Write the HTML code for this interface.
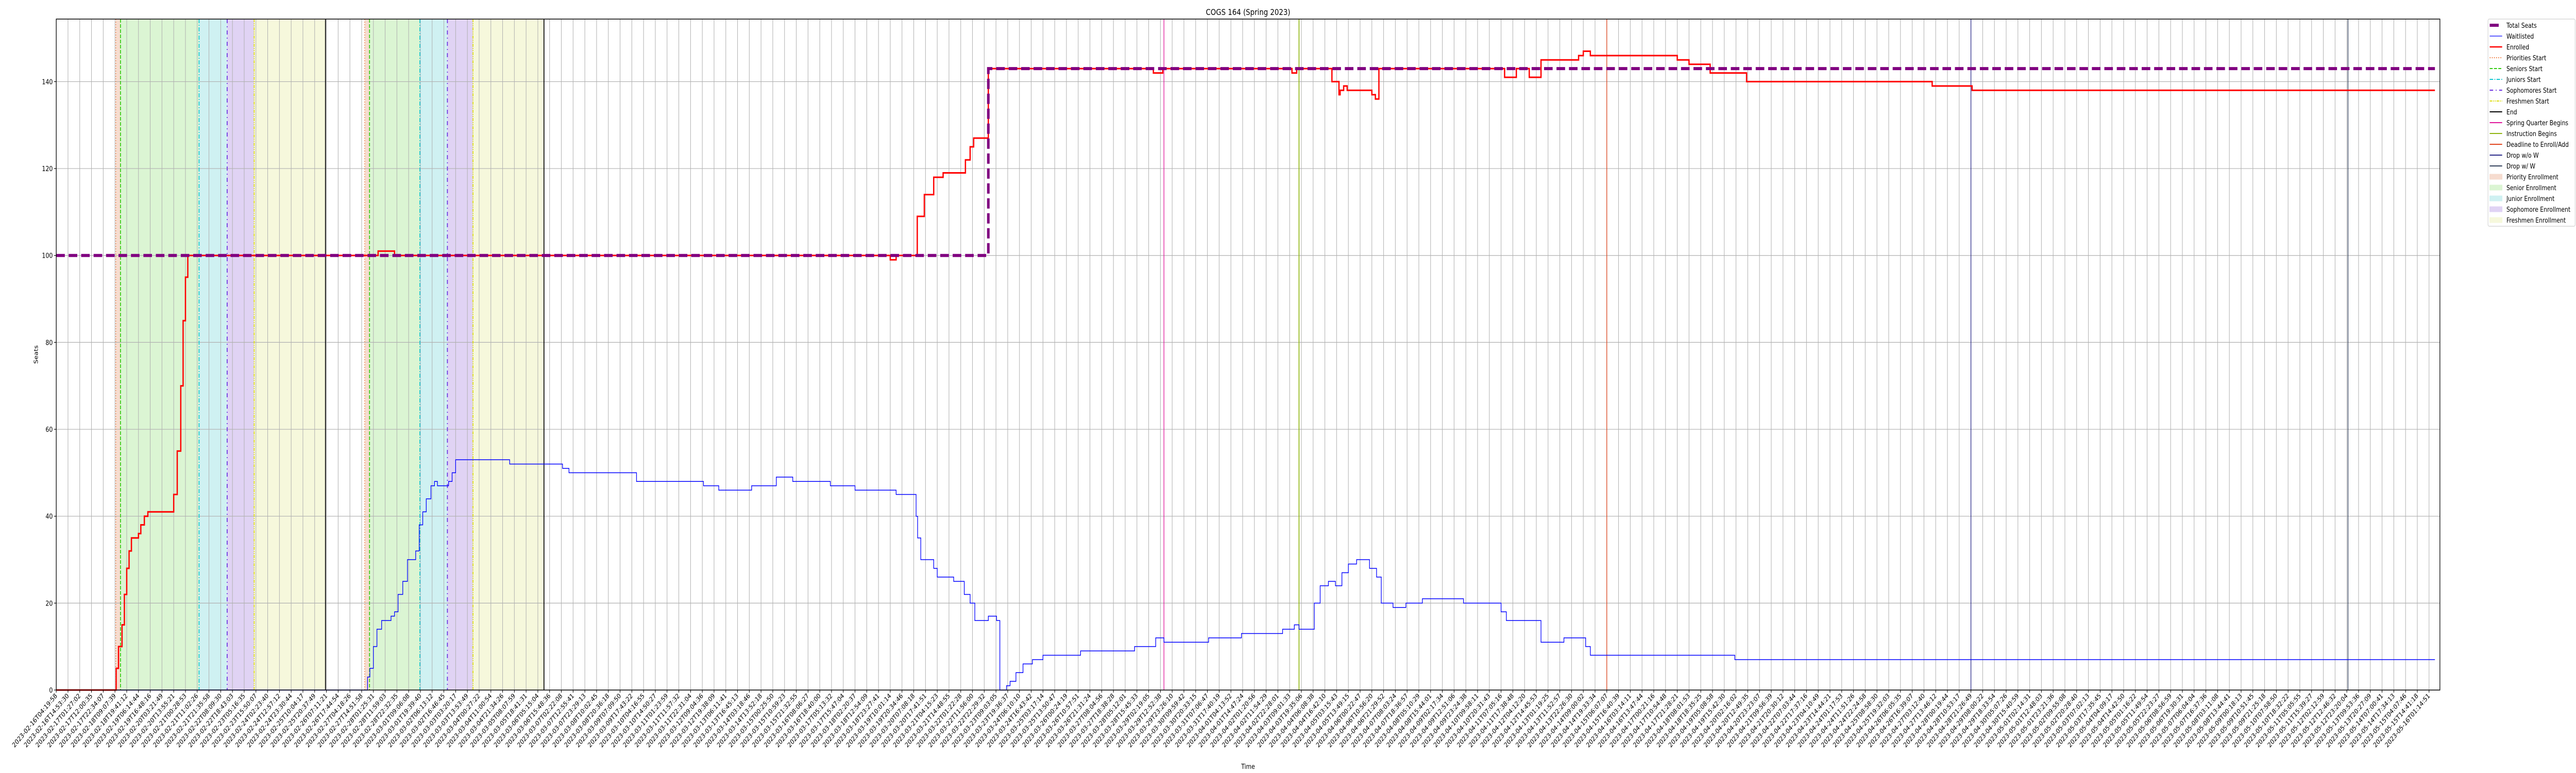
<!DOCTYPE html>
<html><head><meta charset="utf-8">
<style>
html,body{margin:0;padding:0;background:#fff;overflow:hidden;width:100%;height:100%;}
svg{display:block;width:100vw;height:100vh;font-family:"DejaVu Sans","Liberation Sans",sans-serif;}
</style></head>
<body>
<svg id="chart" viewBox="0 0 6000 1500" preserveAspectRatio="none" xmlns="http://www.w3.org/2000/svg">
<rect x="0" y="0" width="6000" height="1500" fill="#fff"/>
<text x="2907" y="29" font-size="16" text-anchor="middle">COGS 164 (Spring 2023)</text>
<g id="bands"></g>
<g id="grid"></g>
<g id="events"></g>
<g id="series"></g>
<g id="axes"></g>
<g id="legend"></g>
<text transform="translate(88,688) rotate(-90)" font-size="13" text-anchor="middle">Seats</text>
<text x="2907" y="1492" font-size="13" text-anchor="middle">Time</text>
</svg>
<script>
// ---- data (x in tick-index units, y in seats) ----
const yTicks = [0, 20, 40, 60, 80, 100, 120, 140];
const tickStart = "2023-02-16T04:19:58";
const tickEnd = "2023-05-16T01:14:51";
const tickCount = 203;
const totalX = [0, 79.35, 202.5];
const totalV = [100, 143, 143];
const enrollX = [0,5.0,5.1,5.3,5.6,5.8,6.0,6.2,6.4,7.0,7.2,7.5,7.8,9.8,10.0,10.3,10.6,10.8,11.0,11.2,27.4,28.8,71.0,71.5,73.3,73.9,74.7,75.5,77.4,77.8,78.1,79.35,93.4,94.2,105.2,105.6,108.6,109.2,109.3,109.6,109.9,112.0,112.3,112.6,123.0,123.3,124.0,124.3,125.4,126.4,129.6,130.0,130.6,138.0,139.0,140.8,143.9,159.7,163.1,202.5];
const enrollV = [0,0,5,10,15,22,28,32,35,36,38,40,41,41,45,55,70,85,95,100,101,100,99,100,109,114,118,119,122,125,127,143,142,143,142,143,140,137,138,139,138,137,136,143,143,141,141,143,141,145,146,147,146,145,144,142,140,139,138,138];
const waitX = [0,26.3,26.5,26.7,27.0,27.3,27.7,28.5,28.8,29.1,29.5,29.9,30.6,30.9,31.2,31.5,31.9,32.2,32.45,33.4,33.7,34.0,38.6,43.1,43.65,49.4,55.1,56.4,59.2,61.3,62.7,65.9,68.0,71.5,73.2,73.33,73.6,74.7,75.0,76.4,77.3,77.8,78.2,79.35,80.05,80.33,80.9,81.2,81.7,82.3,83.1,84.0,87.2,91.8,93.6,94.3,98.1,100.9,104.4,105.4,105.8,107.1,107.6,108.3,108.9,109.45,110.0,110.7,111.8,112.4,112.8,113.8,114.9,116.3,119.8,123.0,123.45,126.4,128.35,130.2,130.6,142.9,202.5];
const waitV = [0,0,3,5,10,14,16,17,18,22,25,30,32,38,41,44,47,48,47,48,50,53,52,51,50,48,47,46,47,49,48,47,46,45,40,35,30,28,26,25,22,20,16,17,16,0,1,2,4,6,7,8,9,10,12,11,12,13,14,15,14,20,24,25,24,27,29,30,28,26,20,19,20,21,20,18,16,11,12,10,8,7,7];
const bandNames = ["priority","senior","junior","sophomore","freshmen","priority","senior","junior","sophomore","freshmen"];
const bandStart = [5.07,5.47,12.16,14.55,16.85,26.26,26.67,30.96,33.3,35.48];
const bandEnd = [5.47,12.16,14.55,16.85,22.92,26.67,30.96,33.3,35.48,41.52];
const eventNames = ["priorities-start","seniors-start","juniors-start","sophomores-start","freshmen-start","end","priorities-start","seniors-start","juniors-start","sophomores-start","freshmen-start","end","spring-quarter-begins","instruction-begins","deadline-enroll-add","drop-without-w","drop-with-w"];
const eventX = [5.07,5.47,12.16,14.55,16.85,22.92,26.26,26.67,30.96,33.3,35.48,41.52,94.3,105.8,132.0,163.0,195.1];

// ---- styles ----
const L=131,R=5683,T=37,B=1339,YMAX=154.4,DX=27.36;
const xs=u=>L+u*DX;
const ys=v=>B-v*(B-T)/YMAX;
const NS="http://www.w3.org/2000/svg";
const bandFill={priority:"#f6dccf",senior:"#dbf5d3",junior:"#cff1f2",sophomore:"#e0d3f4",freshmen:"#f6f8dc"};
const evStyle={
 "priorities-start":["#f07a3c","2,3",1.5],"seniors-start":["#33cc11","7,3",2],"juniors-start":["#11c6d0","8,3,2,3",2],
 "sophomores-start":["#6a2ee0","8,6,2,6",2],"freshmen-start":["#dede10","6,2,2,2,2,2",2],"end":["#000","",2],
 "spring-quarter-begins":["#e0149a","",1.5],"instruction-begins":["#8fb510","",2],"deadline-enroll-add":["#e0441c","",1.5],
 "drop-without-w":["#2a2a8a","",1.5],"drop-with-w":["#33415c","",1.5]};
function mk(tag,attrs,parent){const e=document.createElementNS(NS,tag);for(const k in attrs)e.setAttribute(k,attrs[k]);parent.appendChild(e);return e;}

const gB=document.getElementById('bands');
bandStart.forEach((s,i)=>{
 const r=mk('rect',{x:xs(s),y:T,width:xs(bandEnd[i])-xs(s),height:B-T,fill:bandFill[bandNames[i]]},gB);
 
 
});

// grid + ticks
const gG=document.getElementById('grid'),gA=document.getElementById('axes');
function fmt(d){const p=n=>String(n).padStart(2,'0');return d.getUTCFullYear()+"-"+p(d.getUTCMonth()+1)+"-"+p(d.getUTCDate())+"T"+p(d.getUTCHours())+":"+p(d.getUTCMinutes())+":"+p(d.getUTCSeconds());}
const t0=Date.parse(tickStart+"Z"),t1=Date.parse(tickEnd+"Z");
for(let k=0;k<tickCount;k++){
 const x=xs(k);
 mk('line',{x1:x,x2:x,y1:T,y2:B,stroke:"#b0b0b0","stroke-width":1.2},gG);
 mk('line',{x1:x,x2:x,y1:B,y2:B+5,stroke:"#000","stroke-width":1.2},gA);
 const lab=fmt(new Date(t0+(t1-t0)*k/(tickCount-1)));
 const t=mk('text',{transform:`translate(${x+3},${B+12}) rotate(-45)`,"font-size":13,"text-anchor":"end"},gA);
 t.textContent=lab;
 
 
}
yTicks.forEach(v=>{
 const y=ys(v);
 mk('line',{x1:L,x2:R,y1:y,y2:y,stroke:"#b0b0b0","stroke-width":1.2},gG);
 mk('line',{x1:L-5,x2:L,y1:y,y2:y,stroke:"#000","stroke-width":1.2},gA);
 const t=mk('text',{x:L-8,y:y+5,"font-size":13.3,"text-anchor":"end"},gA);
 t.textContent=v;
 
 
});
const frame=mk('rect',{x:L,y:T,width:R-L,height:B-T,fill:"none",stroke:"#000","stroke-width":1.5},gA);



// event lines
const gE=document.getElementById('events');
eventX.forEach((u,i)=>{
 const s=evStyle[eventNames[i]];
 const l=mk('line',{x1:xs(u),x2:xs(u),y1:T,y2:B,stroke:s[0],"stroke-width":s[2]},gE);
 if(s[1])l.setAttribute('stroke-dasharray',s[1]);
 
 
});

// series (step-post)
const gS=document.getElementById('series');
function stepPath(X,V){let d=`M${xs(X[0])},${ys(V[0])}`;for(let i=1;i<X.length;i++){d+=`H${xs(X[i])}V${ys(V[i])}`;}return d;}
const wl=mk('path',{d:stepPath(waitX,waitV),fill:"none",stroke:"#0000ff","stroke-width":1.5},gS);


const el=mk('path',{d:stepPath(enrollX,enrollV),fill:"none",stroke:"#ff0000","stroke-width":3},gS);


const tl=mk('path',{d:stepPath(totalX,totalV),fill:"none",stroke:"#800080","stroke-width":6,"stroke-dasharray":"20,9"},gS);



// legend
const gL=document.getElementById('legend');
const legNames=["Total Seats","Waitlisted","Enrolled","Priorities Start","Seniors Start","Juniors Start","Sophomores Start","Freshmen Start","End","Spring Quarter Begins","Instruction Begins","Deadline to Enroll/Add","Drop w/o W","Drop w/ W","Priority Enrollment","Senior Enrollment","Junior Enrollment","Sophomore Enrollment","Freshmen Enrollment"];
const legKeys=["total","wait","enroll","priorities-start","seniors-start","juniors-start","sophomores-start","freshmen-start","end","spring-quarter-begins","instruction-begins","deadline-enroll-add","drop-without-w","drop-with-w","priority","senior","junior","sophomore","freshmen"];
const box=mk('rect',{x:5795,y:37,width:203,height:402,fill:"#fff",stroke:"#d0d0d0","stroke-width":1.2,rx:3},gL);


legNames.forEach((n,i)=>{
 const y=49+i*21.0;
 const g=mk('g',{},gL);
 
 
 const k=legKeys[i];
 if(k==="total")mk('line',{x1:5799,x2:5820,y1:y,y2:y,stroke:"#800080","stroke-width":6},g);
 else if(k==="wait")mk('line',{x1:5799,x2:5828,y1:y,y2:y,stroke:"#0000ff","stroke-width":1.2},g);
 else if(k==="enroll")mk('line',{x1:5799,x2:5828,y1:y,y2:y,stroke:"#ff0000","stroke-width":2.5},g);
 else if(bandFill[k])mk('rect',{x:5799,y:y-5,width:29,height:10,fill:bandFill[k],stroke:bandFill[k]},g);
 else{const s=evStyle[k];const l=mk('line',{x1:5799,x2:5828,y1:y,y2:y,stroke:s[0],"stroke-width":2},g);if(s[1])l.setAttribute('stroke-dasharray',s[1]);}
 const t=mk('text',{x:5838,y:y+5,"font-size":13},g);t.textContent=n;
});
</script>
</body></html>
